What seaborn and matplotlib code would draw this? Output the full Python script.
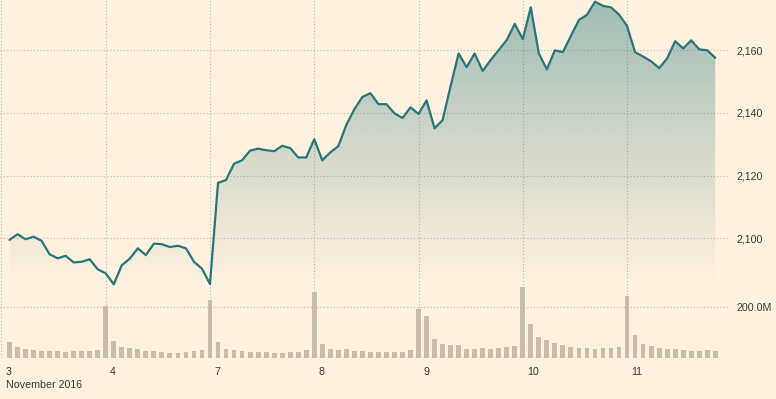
import numpy as np
import pandas as pd
import matplotlib
matplotlib.use("Agg")
import matplotlib.pyplot as plt
import matplotlib.transforms as mtransforms
from matplotlib.colors import to_rgb
import seaborn as sns

# ---- data ----
day_labels = ["3", "4", "7", "8", "9", "10", "11"]
day_start_index = [-1, 12, 25, 38, 51, 64, 77]
period_label = "November 2016"

price = [
    2099.5, 2101.3, 2099.7, 2100.5, 2099.2, 2094.9, 2093.6, 2094.4, 2092.3, 2092.5,
    2093.3, 2090.1, 2088.8, 2085.3, 2091.4, 2093.5, 2096.8, 2094.6, 2098.3, 2098.1,
    2097.2, 2097.6, 2096.8, 2092.5, 2090.3, 2085.4, 2117.7, 2118.6, 2123.8, 2124.9,
    2128.0, 2128.6, 2128.1, 2127.8, 2129.5, 2128.8, 2125.8, 2125.8, 2131.6, 2124.9,
    2127.4, 2129.4, 2136.2, 2141.2, 2145.1, 2146.3, 2142.8, 2142.8, 2139.9, 2138.4,
    2141.8, 2139.7, 2144.0, 2135.1, 2137.7, 2148.6, 2159.0, 2154.6, 2159.0, 2153.4,
    2156.9, 2160.1, 2163.3, 2168.4, 2163.6, 2173.7, 2159.0, 2153.9, 2160.0, 2159.4,
    2164.6, 2169.7, 2171.3, 2175.5, 2174.2, 2173.7, 2171.4, 2167.8, 2159.4, 2158.0,
    2156.5, 2154.3, 2157.4, 2162.9, 2160.6, 2163.2, 2160.3, 2160.0, 2157.6,
]

volume_m = [
    61, 41, 32, 29, 27, 27, 26, 21, 25, 27,
    27, 31, 207, 65, 41, 37, 34, 27, 27, 23,
    19, 19, 23, 27, 29, 229, 61, 34, 29, 26,
    23, 23, 20, 19, 19, 21, 21, 29, 261, 53,
    34, 29, 34, 27, 26, 23, 23, 21, 21, 21,
    29, 193, 165, 73, 53, 49, 49, 33, 33, 37,
    33, 37, 41, 45, 281, 133, 81, 69, 57, 49,
    41, 37, 37, 33, 37, 37, 41, 245, 89, 53,
    45, 37, 33, 33, 29, 25, 25, 29, 25,
]

price_ticks = [2100, 2120, 2140, 2160]
price_tick_labels = ["2,100", "2,120", "2,140", "2,160"]
volume_ticks = [200]
volume_tick_labels = ["200.0M"]

# ---- styling ----
BG = "#FFF1E0"
LINE = "#26767a"
BAR = "#cdbcab"
GRID = "#bfb4a8"
TEXT = "#3a3835"
FS = 7.7

sns.set_style("white")
plt.rcParams["font.family"] = ["Liberation Sans", "DejaVu Sans"]

W, H, DPI = 776, 399, 100
fig = plt.figure(figsize=(W / DPI, H / DPI), dpi=DPI, facecolor=BG)

ax_bottom_px = 357.5
rect = [0, (H - ax_bottom_px) / H, 730 / W, ax_bottom_px / H]
axv = fig.add_axes(rect)
axp = fig.add_axes(rect, sharex=axv)
for a in (axv, axp):
    a.set_facecolor("none")
    for s in a.spines.values():
        s.set_visible(False)

idx = np.arange(len(price))
df = pd.DataFrame({"i": idx, "price": price, "volume": volume_m})

# volume bars
sns.barplot(data=df, x="i", y="volume", native_scale=True, ax=axv, color=BAR,
            saturation=1, width=0.6, errorbar=None, zorder=2,
            linewidth=0, edgecolor="none")
# normalise bar width to 0.6 of the slot
for p in axv.patches:
    cx = p.get_x() + p.get_width() / 2
    p.set_width(0.6)
    p.set_x(cx - 0.3)

# price: gradient area + line
ylo = 2160 - (ax_bottom_px - 50.3) / 3.133
yhi = 2160 + 50.3 / 3.133
n = 300
ys = np.linspace(ylo, yhi, n)
alpha = np.clip((ys - 2085.0) / (yhi - 2085.0), 0, 1) * 0.43
rgba = np.zeros((n, 1, 4))
rgba[..., :3] = to_rgb(LINE)
rgba[:, 0, 3] = alpha
im = axp.imshow(rgba, extent=[idx[0], idx[-1], ylo, yhi], origin="lower",
                aspect="auto", interpolation="bilinear", zorder=1)
poly = axp.fill_between(df["i"], df["price"], ylo, facecolor="none", edgecolor="none")
im.set_clip_path(poly.get_paths()[0], transform=axp.transData)

sns.lineplot(data=df, x="i", y="price", ax=axp, color=LINE, linewidth=1.6,
             clip_on=False, zorder=3)

# limits
xlo = -9.5 / 8.02
xhi = (730 - 9.5) / 8.02
axp.set_xlim(xlo, xhi)
axp.set_ylim(ylo, yhi)
axv.set_ylim(0, ax_bottom_px / 50.2 * 200)

for a in (axv, axp):
    a.set_xlabel("")
    a.set_ylabel("")

# grids
grid_kw = dict(color=GRID, linestyle=(0, (1, 2)), linewidth=0.8)
axp.set_yticks(price_ticks)
axp.set_yticklabels(price_tick_labels)
axv.set_yticks(volume_ticks)
axv.set_yticklabels(volume_tick_labels)
axp.set_xticks(day_start_index)
axp.set_xticklabels(day_labels)
axp.grid(True, axis="both", **grid_kw)
axv.grid(True, axis="y", **grid_kw)
axv.grid(False, axis="x")
axp.set_axisbelow(True)
axv.set_axisbelow(True)

for a in (axp, axv):
    a.yaxis.tick_right()
    a.tick_params(axis="y", length=0, pad=4.5, labelsize=FS, labelcolor=TEXT)
axp.tick_params(axis="x", length=4, width=0.8, color=GRID, pad=2.5,
                labelsize=FS, labelcolor=TEXT, direction="out")
axv.tick_params(axis="x", bottom=False, labelbottom=False)

offset = mtransforms.ScaledTranslation(4.5 / DPI, 0, fig.dpi_scale_trans)
for lab in axp.get_xticklabels():
    lab.set_horizontalalignment("left")
    lab.set_transform(lab.get_transform() + offset)

fig.text(6.5 / W, 1 - 388 / H, period_label, fontsize=FS, color=TEXT,
         ha="left", va="baseline")

fig.savefig("out.png", dpi=DPI, facecolor=BG)
